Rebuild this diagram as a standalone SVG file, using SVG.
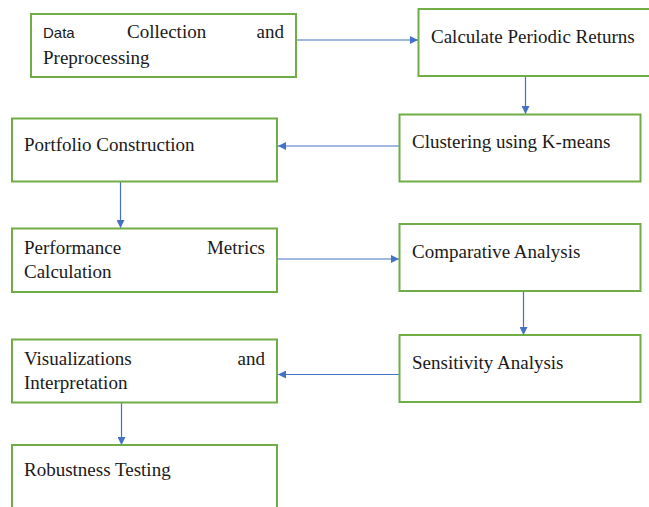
<svg xmlns="http://www.w3.org/2000/svg" width="649" height="507" viewBox="0 0 649 507">
<defs>
<style>
.box{fill:#fff;stroke:#70AD47;stroke-width:2}
.t{font-family:"Liberation Serif","Times New Roman",serif;font-size:19px;fill:#1a1a1a}
.s{font-family:"Liberation Sans",Arial,sans-serif;font-size:15px;fill:#1a1a1a}
.c{stroke:#4472C4;stroke-width:1.2;fill:none;marker-end:url(#ah)}
</style>
<marker id="ah" viewBox="0 0 10 10" refX="10" refY="5" markerWidth="8" markerHeight="8" markerUnits="userSpaceOnUse" orient="auto">
<path d="M0,0 L10,5 L0,10 z" fill="#4472C4"/>
</marker>
</defs>
<rect width="649" height="507" fill="#fff"/>
<g id="connectors">
<line class="c" x1="297" y1="40" x2="418" y2="40"/>
<line class="c" x1="525.5" y1="76" x2="525.5" y2="114"/>
<line class="c" x1="399" y1="146" x2="278" y2="146"/>
<line class="c" x1="120.5" y1="182" x2="120.5" y2="228"/>
<line class="c" x1="278" y1="259" x2="399" y2="259"/>
<line class="c" x1="523.5" y1="291" x2="523.5" y2="335"/>
<line class="c" x1="399" y1="374.5" x2="278" y2="374.5"/>
<line class="c" x1="121.5" y1="403" x2="121.5" y2="445"/>
</g>
<g id="n1">
<rect class="box" x="31" y="14" width="265" height="63"/>
<text class="s" x="43" y="37.5">Data</text>
<text class="t" x="127" y="37.5">Collection</text>
<text class="t" x="284" y="37.5" text-anchor="end">and</text>
<text class="t" x="43" y="63.5">Preprocessing</text>
</g>
<g id="n2">
<rect class="box" x="418.5" y="9" width="245" height="67"/>
<text class="t" x="431" y="42.5">Calculate Periodic Returns</text>
</g>
<g id="n3">
<rect class="box" x="399.5" y="114.5" width="241" height="67"/>
<text class="t" x="412" y="147.5">Clustering using K-means</text>
</g>
<g id="n4">
<rect class="box" x="12" y="118.5" width="265" height="63"/>
<text class="t" x="24" y="150.5">Portfolio Construction</text>
</g>
<g id="n5">
<rect class="box" x="12" y="228.5" width="265" height="63.5"/>
<text class="t" x="24" y="253.5">Performance</text>
<text class="t" x="265" y="253.5" text-anchor="end">Metrics</text>
<text class="t" x="24" y="277.5">Calculation</text>
</g>
<g id="n6">
<rect class="box" x="399.5" y="224" width="241" height="67"/>
<text class="t" x="412" y="257.5">Comparative Analysis</text>
</g>
<g id="n7">
<rect class="box" x="399.5" y="335" width="241" height="67"/>
<text class="t" x="412" y="368.5">Sensitivity Analysis</text>
</g>
<g id="n8">
<rect class="box" x="12" y="339.5" width="265" height="63"/>
<text class="t" x="24" y="364.5">Visualizations</text>
<text class="t" x="265" y="364.5" text-anchor="end">and</text>
<text class="t" x="24" y="388.5">Interpretation</text>
</g>
<g id="n9">
<rect class="box" x="12" y="445" width="265" height="80"/>
<text class="t" x="24" y="476">Robustness Testing</text>
</g>
</svg>
